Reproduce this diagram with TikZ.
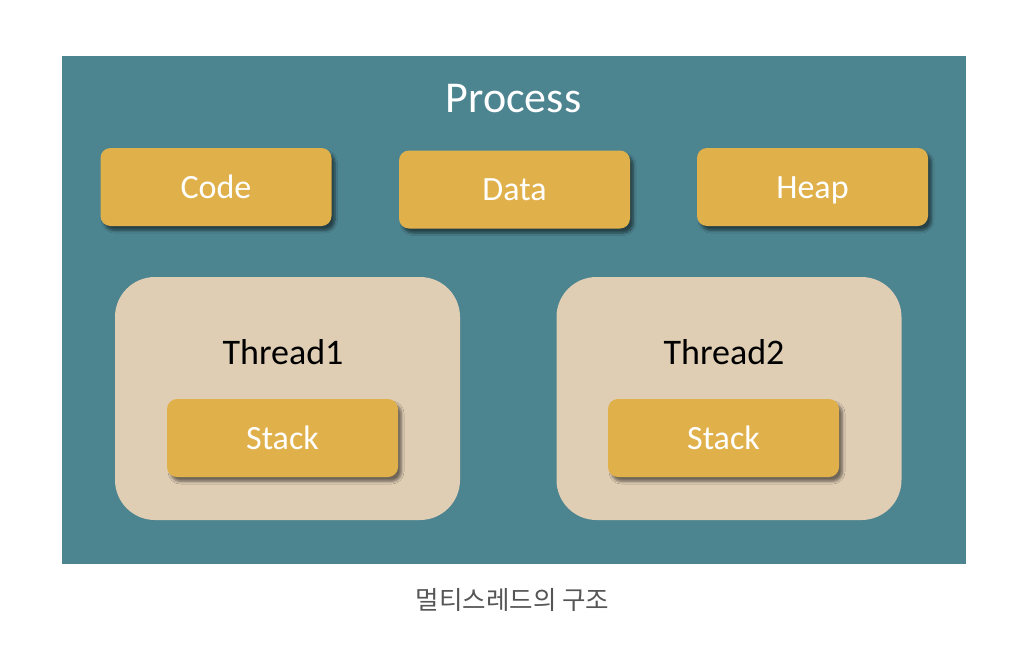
\documentclass[tikz,border=0pt]{standalone}
\usepackage{fontspec}
\setmainfont{Carlito}
\newfontfamily\krfont{Noto Sans CJK KR}
\usetikzlibrary{shadows.blur}
\definecolor{tealbg}{RGB}{76,132,144}
\definecolor{gold}{RGB}{224,176,74}
\definecolor{beige}{RGB}{223,205,180}
\definecolor{capgray}{RGB}{85,85,85}
\tikzset{
  goldbox/.style={fill=gold, rounded corners=10pt, minimum width=231pt, minimum height=78pt,
    inner sep=0pt, text=white, font=\fontsize{34}{40}\selectfont, text height=26pt, text depth=4pt,
    blur shadow={shadow xshift=3.5pt, shadow yshift=-4.5pt, shadow blur radius=2.5pt, shadow blur steps=6, shadow opacity=50}},
  threadbox/.style={fill=beige, rounded corners=40pt, minimum width=345pt, minimum height=243pt, inner sep=0pt},
  threadlabel/.style={text=black, font=\fontsize{36}{42}\selectfont, anchor=base, inner sep=0pt},
}
\begin{document}
\begin{tikzpicture}[x=1pt,y=-1pt]
\useasboundingbox (0,0) rectangle (1034,656);
\fill[white] (0,0) rectangle (1034,656);
\node[fill=tealbg, minimum width=904pt, minimum height=508pt, inner sep=0pt] (proc) at (514,310) {};
\node[text=white, font=\fontsize{44}{50}\selectfont, anchor=base, inner sep=0pt] (ptitle) at (513.5,112) {Process};
\node[goldbox] (code) at (216,187) {Code};
\node[goldbox] (data) at (514.5,189.5) {Data};
\node[goldbox] (heap) at (812.5,187) {Heap};
\node[threadbox] (t1) at (287.5,398.5) {};
\node[threadbox] (t2) at (729,398.5) {};
\node[threadlabel] (t1l) at (283,364) {Thread1};
\node[threadlabel] (t2l) at (724,364) {Thread2};
\node[goldbox] (s1) at (282.5,438) {Stack};
\node[goldbox] (s2) at (723.5,438) {Stack};
\node[text=capgray, font=\krfont\fontsize{25.5}{30}\selectfont, inner sep=0pt] (cap) at (512.5,600) {멀티스레드의 구조};
\end{tikzpicture}
\end{document}
